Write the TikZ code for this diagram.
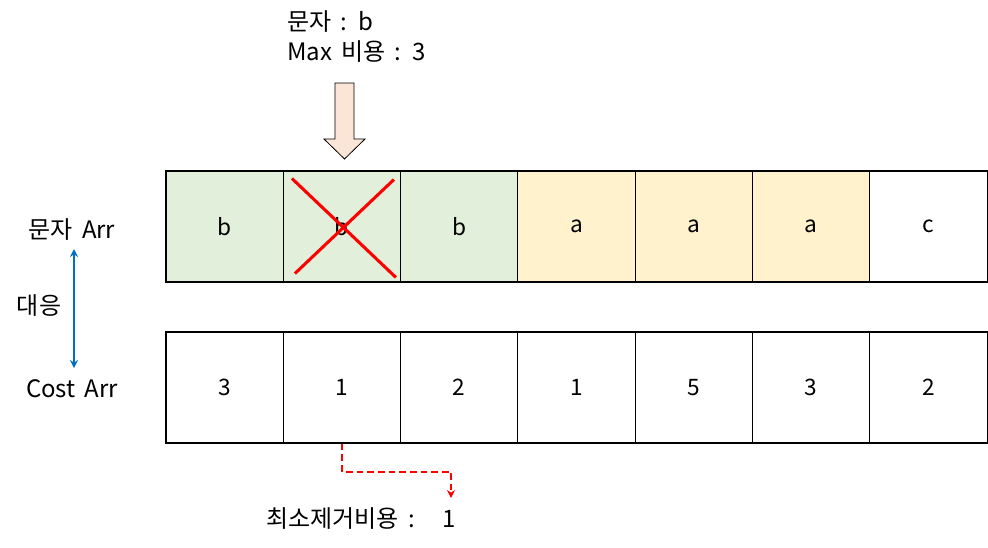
\documentclass[tikz,border=0pt]{standalone}
\usepackage{fontspec}
\setmainfont[WordSpace=1.7]{Noto Sans CJK KR}
\usetikzlibrary{arrows.meta,calc}
\definecolor{cellgreen}{HTML}{E2EFDA}
\definecolor{cellyellow}{HTML}{FFF2CC}
\definecolor{arrowfill}{HTML}{FBE5D6}
\definecolor{arrowblue}{HTML}{0070C0}
\tikzset{
  cell/.style={draw=black, line width=0.8pt, minimum width=88pt, minimum height=83.25pt, inner sep=0pt, font=\fontsize{17}{19}\selectfont},
  lbl/.style={inner sep=0pt, font=\fontsize{18}{22}\selectfont, align=left},
  cross/.style={draw=red, line width=2.3pt},
}
\begin{document}
\begin{tikzpicture}[x=0.75pt,y=-0.75pt]
\useasboundingbox (0,0) rectangle (988,547);
% top row
\foreach \i/\t/\c in {1/b/cellgreen,2/b/cellgreen,3/b/cellgreen,4/a/cellyellow,5/a/cellyellow,6/a/cellyellow,7/c/white}{
  \node[cell, fill=\c] (t\i) at ({166+117.3*(\i-0.5)},226.5) {\t};
}
\foreach \i/\t in {1/3,2/1,3/2,4/1,5/5,6/3,7/2}{
  \node[cell] (b\i) at ({166+117.3*(\i-0.5)},387.5) {\t};
}
% cross
\draw[cross] ($(t2.center)+(-50,-48)$) -- ($(t2.center)+(54,51)$);
\draw[cross] ($(t2.center)+(-47,47)$) -- ($(t2.center)+(52,-47)$);
% top text
\node[lbl, anchor=north west] (info) at (287,10) {문자 : b\\[1pt]Max 비용 : 3};
% block arrow
\draw[black, line width=0.6pt, fill=arrowfill] (335,83) -- (354,83) -- (354,139) -- (365,139) -- (344.5,159) -- (324,139) -- (335,139) -- cycle;
% left labels
\node[lbl] (charArr) at (72,230) {문자 Arr};
\node[lbl] (costArr) at (72,389) {Cost Arr};
\node[lbl] (match) at (39,306) {대응};
\coordinate (ua) at (74,249);
\coordinate (la) at (74,368);
\draw[arrowblue, line width=1.8pt, {Stealth[length=6pt,width=6pt]}-{Stealth[length=6pt,width=6pt]}] (ua) -- (la);
% bottom dashed
\node[lbl] (mincost) at (361,519) {최소제거비용 :\ \ \ 1};
\coordinate (dend) at (451,498);
\draw[red, line width=1.5pt, dash pattern=on 5pt off 3pt, -{Stealth[length=6pt,width=6pt]}] (b2.south) -- ++(0,28) -| (dend);
\end{tikzpicture}
\end{document}
